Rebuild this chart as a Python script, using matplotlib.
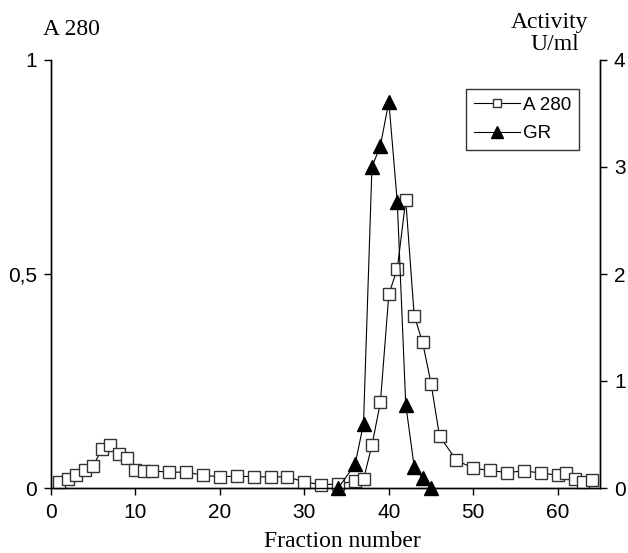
#! /usr/bin/env python3
# coding: utf-8

import matplotlib
matplotlib.use("Agg")
import matplotlib.pyplot as plt
from matplotlib.lines import Line2D

####
# Les donnees
####

fractions_a280 = [1, 2, 3, 4, 5, 6, 7, 8, 9, 10, 11, 12, 14, 16, 18, 20, 22, 24, 26, 28,
                  30, 32, 34, 36, 37, 38, 39, 40, 41, 42, 43, 44, 45, 46, 48, 50, 52, 54,
                  56, 58, 60, 61, 62, 63, 64]
valeurs_a280 = [0.015, 0.02, 0.03, 0.042, 0.051, 0.091, 0.10, 0.079, 0.07, 0.042, 0.04,
                0.04, 0.037, 0.037, 0.03, 0.026, 0.028, 0.026, 0.026, 0.026, 0.014, 0.008,
                0.009, 0.016, 0.02, 0.10, 0.20, 0.453, 0.512, 0.673, 0.403, 0.34, 0.244,
                0.121, 0.065, 0.046, 0.041, 0.036, 0.04, 0.035, 0.03, 0.036, 0.021, 0.015,
                0.019]

fractions_gr = [34, 36, 37, 38, 39, 40, 41, 42, 43, 44, 45]
valeurs_gr = [0.0, 0.22, 0.60, 3.0, 3.2, 3.61, 2.67, 0.78, 0.2, 0.09, 0.0]

ticks_x = [0, 10, 20, 30, 40, 50, 60]
ticks_gauche = [0, 0.5, 1]
labels_gauche = ["0", "0,5", "1"]
ticks_droite = [0, 1, 2, 3, 4]

SANS = "Liberation Sans"
SERIF = "Liberation Serif"


def graphique():
	fig = plt.figure(figsize=(6.28, 5.53), dpi=100)
	ax = fig.add_axes([51 / 628, 65 / 553, 549 / 628, 428 / 553])
	ax2 = ax.twinx()

	# courbe A 280 (carres blancs)
	ax.plot(fractions_a280, valeurs_a280, color="black", lw=0.8, marker="s",
			ms=8, mfc="white", mec="#333333", mew=1.0, clip_on=False, zorder=3)
	# activite GR (triangles noirs)
	ax2.plot(fractions_gr, valeurs_gr, color="black", lw=0.8, marker="^",
			 ms=9.5, mfc="black", mec="black", clip_on=False, zorder=3)

	ax.set_xlim(0, 65)
	ax.set_ylim(0, 1)
	ax2.set_ylim(0, 4)

	ax.set_xticks(ticks_x)
	ax.set_yticks(ticks_gauche)
	ax.set_yticklabels(labels_gauche)
	ax2.set_yticks(ticks_droite)

	for a in (ax, ax2):
		a.spines["top"].set_visible(False)
		for s in a.spines.values():
			s.set_linewidth(1.0)
	ax.tick_params(axis="x", direction="out", length=5, width=1, pad=6, labelsize=15)
	ax.tick_params(axis="y", direction="out", length=5, width=1, pad=5, labelsize=15)
	ax2.tick_params(axis="y", direction="out", length=5, width=1, pad=5, labelsize=15)
	for lab in ax.get_xticklabels() + ax.get_yticklabels() + ax2.get_yticklabels():
		lab.set_fontfamily(SANS)

	# titres des axes places a la main, comme sur l'original
	fig.text(71 / 628, 1 - 35 / 553, "A 280", family=SERIF, fontsize=17,
			 ha="center", va="baseline")
	fig.text(550 / 628, 1 - 28 / 553, "Activity", family=SERIF, fontsize=17,
			 ha="center", va="baseline")
	fig.text(555 / 628, 1 - 50 / 553, "U/ml", family=SERIF, fontsize=17,
			 ha="center", va="baseline")
	fig.text(342 / 628, 1 - 547 / 553, "Fraction number", family=SERIF, fontsize=17,
			 ha="center", va="baseline")

	# legende avec des marqueurs un peu plus petits
	poignees = [
		Line2D([], [], color="black", lw=0.8, marker="s", ms=6, mfc="white", mec="#333333"),
		Line2D([], [], color="black", lw=0.8, marker="^", ms=9, mfc="black", mec="black"),
	]
	leg = ax2.legend(poignees, ["A 280", "GR"], loc="upper right",
					 bbox_to_anchor=(0.962, 0.932), borderaxespad=0, fancybox=False,
					 framealpha=1, edgecolor="#333333", handlelength=2.45,
					 handletextpad=0.2, borderpad=0.4, labelspacing=0.6,
					 prop={"family": SANS, "size": 13.5})
	leg.get_frame().set_linewidth(1.0)

	fig.savefig("out.png", dpi=100)


def main():
	graphique()


if __name__ == "__main__":
	main()
